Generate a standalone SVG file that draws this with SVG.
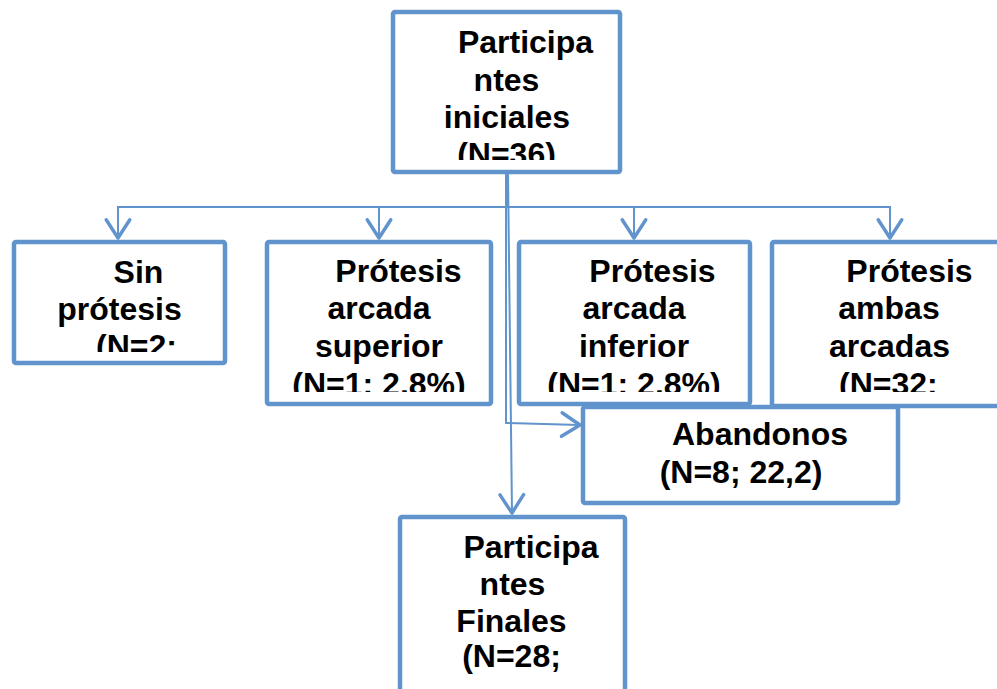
<svg xmlns="http://www.w3.org/2000/svg" width="997" height="689" viewBox="0 0 997 689">
<style>
.box{fill:#fff;stroke:#6193CC;stroke-width:4.5;stroke-linejoin:round}
.ln{fill:none;stroke:#6193CC;stroke-width:2}
.t{font-family:"Liberation Sans",Arial,sans-serif;font-weight:bold;font-size:32px;fill:#000;text-anchor:middle}
</style>
<defs>
<marker id="ah" markerUnits="userSpaceOnUse" markerWidth="30" markerHeight="30" viewBox="-20 -14 24 28" refX="0" refY="0" orient="auto">
<path d="M-17,-11 L0,0 L-17,11" fill="none" stroke="#6193CC" stroke-width="3.2" stroke-linecap="round" stroke-linejoin="round"/>
</marker>
<clipPath id="c0"><rect x="395" y="14" width="223" height="146"/></clipPath>
<clipPath id="c1"><rect x="16" y="244" width="207" height="108"/></clipPath>
<clipPath id="c2"><rect x="269" y="244" width="220" height="148"/></clipPath>
<clipPath id="c3"><rect x="521" y="244" width="227" height="148"/></clipPath>
<clipPath id="c4"><rect x="774" y="244" width="230" height="148"/></clipPath>
</defs>

<g id="n-inicial">
<rect class="box" x="393" y="12" width="227" height="160" rx="2"/>
<g clip-path="url(#c0)">
<text class="t" x="525.5" y="53">Participa</text>
<text class="t" x="506.5" y="91">ntes</text>
<text class="t" x="507" y="128">iniciales</text>
<text class="t" x="506.5" y="165">(N=36)</text>
</g>
</g>

<g id="n-sin">
<rect class="box" x="14" y="242" width="211" height="121" rx="2"/>
<g clip-path="url(#c1)">
<text class="t" x="138.5" y="283">Sin</text>
<text class="t" x="119.5" y="320">prótesis</text>
<text class="t" x="96" y="357" style="text-anchor:start">(N=2:</text>
</g>
</g>

<g id="n-superior">
<rect class="box" x="267" y="242" width="224" height="162" rx="2"/>
<g clip-path="url(#c2)">
<text class="t" x="398.5" y="282">Prótesis</text>
<text class="t" x="379" y="319">arcada</text>
<text class="t" x="379" y="357">superior</text>
<text class="t" x="379" y="394.5">(N=1: 2.8%)</text>
</g>
</g>

<g id="n-inferior">
<rect class="box" x="519" y="242" width="231" height="162" rx="2"/>
<g clip-path="url(#c3)">
<text class="t" x="652.5" y="282">Prótesis</text>
<text class="t" x="634" y="319">arcada</text>
<text class="t" x="634" y="357">inferior</text>
<text class="t" x="634" y="394.5">(N=1: 2.8%)</text>
</g>
</g>

<g id="n-ambas">
<rect class="box" x="772" y="242" width="240" height="164" rx="2"/>
<g clip-path="url(#c4)">
<text class="t" x="909.5" y="282">Prótesis</text>
<text class="t" x="889" y="319">ambas</text>
<text class="t" x="889.5" y="357">arcadas</text>
<text class="t" x="839" y="394.5" style="text-anchor:start">(N=32:</text>
</g>
</g>

<g id="n-abandonos">
<rect class="box" x="583" y="407" width="315" height="96" rx="2"/>
<text class="t" x="760" y="445">Abandonos</text>
<text class="t" x="741" y="483">(N=8; 22,2)</text>
</g>

<g id="n-finales">
<rect class="box" x="400" y="517" width="225" height="190" rx="2"/>
<text class="t" x="531" y="558">Participa</text>
<text class="t" x="512.5" y="595">ntes</text>
<text class="t" x="511.5" y="632">Finales</text>
<text class="t" x="511.5" y="667">(N=28;</text>
</g>

<g id="connectors">
<line class="ln" x1="507" y1="174" x2="507" y2="207"/>
<line class="ln" x1="117" y1="207" x2="891" y2="207"/>
<line class="ln" x1="118" y1="206" x2="118" y2="238" marker-end="url(#ah)"/>
<line class="ln" x1="379" y1="206" x2="379" y2="238" marker-end="url(#ah)"/>
<line class="ln" x1="634" y1="206" x2="634" y2="238" marker-end="url(#ah)"/>
<line class="ln" x1="890" y1="206" x2="890" y2="238" marker-end="url(#ah)"/>
<polyline class="ln" points="506,174 506,423 580,425" marker-end="url(#ah)"/>
<line class="ln" x1="508" y1="174" x2="512" y2="513" marker-end="url(#ah)"/>
</g>
</svg>
